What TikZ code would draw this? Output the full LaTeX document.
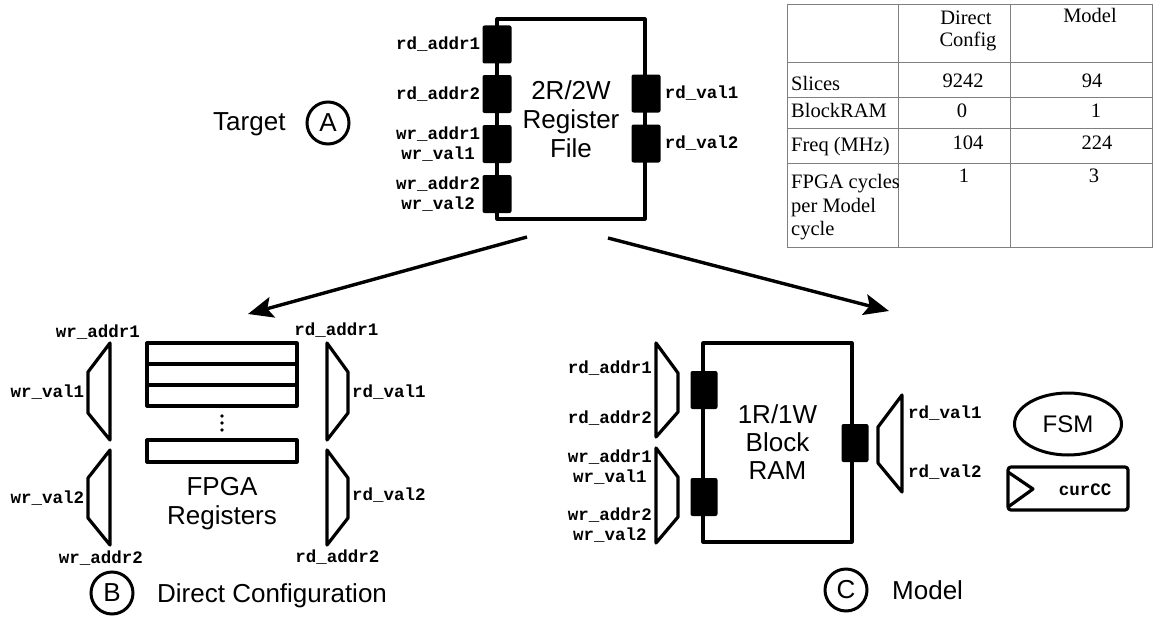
\documentclass[tikz,border=0pt]{standalone}
\usepackage{fontspec}
\setmainfont{Liberation Serif}
\setsansfont{Liberation Sans}
\setmonofont{Liberation Mono}
\usetikzlibrary{arrows.meta,positioning,shapes}

\begin{document}
\begin{tikzpicture}[x=1pt,y=-1pt,
  port/.style={fill=black,rounded corners=2pt,minimum width=29pt,minimum height=38pt,inner sep=0pt},
  sig/.style={font=\ttfamily\bfseries\fontsize{17.5}{20}\selectfont,inner sep=0pt,align=center},
  big/.style={font=\sffamily\fontsize{26}{29}\selectfont,align=center,inner sep=0pt},
  tbl/.style={font=\fontsize{20.5}{24}\selectfont,inner sep=0pt},
  hw/.style={draw,line width=3.2pt,line join=round},
  lettr/.style={draw,circle,line width=3pt,minimum size=42pt,inner sep=0pt,font=\sffamily\fontsize{26}{29}\selectfont},
  tline/.style={draw=gray,line width=1pt}]
\useasboundingbox (0,0) rectangle (1156,618);

% target register file
\node[big,anchor=base west] (tgt) at (213,130) {Target};
\node[lettr] (ca) at (328,123) {A};
\node[hw,big,minimum width=148pt,minimum height=200pt] (rf) at (571,119) {2R/2W\\Register\\File};
\node[port] (pl1) at (497,44.5) {};
\node[port] (pl2) at (497,94) {};
\node[port] (pl3) at (497,144) {};
\node[port] (pl4) at (497,194) {};
\node[port] (pr1) at (646,93.5) {};
\node[port] (pr2) at (646,143.5) {};
\node[sig,left=2pt of pl1] (ra1) {rd\_addr1};
\node[sig,left=2pt of pl2] (ra2) {rd\_addr2};
\node[sig,left=2pt of pl3] (wa1) {wr\_addr1\\wr\_val1};
\node[sig,left=2pt of pl4] (wa2) {wr\_addr2\\wr\_val2};
\node[sig,right=4pt of pr1] (rv1) {rd\_val1};
\node[sig,right=4pt of pr2] (rv2) {rd\_val2};

% table
\draw[tline] (787,5) rectangle (1152,247);
\draw[tline] (898,5) -- (898,247);
\draw[tline] (1010,5) -- (1010,247);
\draw[tline] (787,63) -- (1152,63);
\draw[tline] (787,97) -- (1152,97);
\draw[tline] (787,128) -- (1152,128);
\draw[tline] (787,163) -- (1152,163);
\node[tbl,anchor=base] (hd1) at (966,25) {Direct};
\node[tbl,anchor=base] (hd2) at (968,47) {Config};
\node[tbl,anchor=base] (hm) at (1090,23) {Model};
\node[tbl,anchor=base west] (rs) at (791,90) {Slices};
\node[tbl,anchor=base west] (rb) at (791,117) {BlockRAM};
\node[tbl,anchor=base west] (rq) at (791,151) {Freq (MHz)};
\node[tbl,anchor=base west] (rc1) at (791,188) {FPGA cycles};
\node[tbl,anchor=base west] (rc2) at (791,212) {per Model};
\node[tbl,anchor=base west] (rc3) at (791,235) {cycle};
\node[tbl,anchor=base] (vs1) at (963,88) {9242};
\node[tbl,anchor=base] (vs2) at (1092,88) {94};
\node[tbl,anchor=base] (vb1) at (962,117) {0};
\node[tbl,anchor=base] (vb2) at (1096,117) {1};
\node[tbl,anchor=base] (vq1) at (968,149) {104};
\node[tbl,anchor=base] (vq2) at (1097,149) {224};
\node[tbl,anchor=base] (vc1) at (964,182) {1};
\node[tbl,anchor=base] (vc2) at (1094,182) {3};

% arrows
\coordinate (al) at (527,237);
\coordinate (bl) at (248,314);
\coordinate (ar) at (608,238);
\coordinate (br) at (889,311);
\draw[-{Stealth[length=25pt,width=21pt,inset=5pt]},line width=3.4pt] (al) -- (bl);
\draw[-{Stealth[length=25pt,width=21pt,inset=5pt]},line width=3.4pt] (ar) -- (br);

% direct configuration
\node[hw,minimum width=150pt,minimum height=21pt,inner sep=0pt] (r1) at (222,353.5) {};
\node[hw,minimum width=150pt,minimum height=21pt,inner sep=0pt] (r2) at (222,374.5) {};
\node[hw,minimum width=150pt,minimum height=21pt,inner sep=0pt] (r3) at (222,395.5) {};
\node[hw,minimum width=150pt,minimum height=22pt,inner sep=0pt] (r4) at (222,451) {};
\fill (222,416) circle (1.8);
\fill (222,423) circle (1.8);
\fill (222,430) circle (1.8);
\node[big] (fr) at (222,504) {FPGA\\Registers};
\draw[hw] (110,343) -- (88,372) -- (88,413) -- (110,440) -- cycle;
\draw[hw] (110,450) -- (88,478) -- (88,518) -- (110,545) -- cycle;
\draw[hw] (327,343) -- (348,372) -- (348,413) -- (327,440) -- cycle;
\draw[hw] (327,450) -- (348,478) -- (348,518) -- (327,545) -- cycle;
\node[sig] (bwa1) at (98,332) {wr\_addr1};
\node[sig] (bwv1) at (47.5,392) {wr\_val1};
\node[sig] (bwv2) at (47.5,498) {wr\_val2};
\node[sig] (bwa2) at (101,558) {wr\_addr2};
\node[sig] (bra1) at (336.5,330) {rd\_addr1};
\node[sig] (brv1) at (389,392) {rd\_val1};
\node[sig] (brv2) at (389,495) {rd\_val2};
\node[sig] (bra2) at (337.5,557) {rd\_addr2};
\node[lettr] (cb) at (112,593) {B};
\node[big,anchor=base west] (dc) at (157,602) {Direct Configuration};

% model
\node[hw,big,font=\sffamily\fontsize{26}{28}\selectfont,minimum width=149pt,minimum height=199pt] (bram) at (777.5,442.5) {1R/1W\\Block\\RAM};
\node[port,minimum width=27pt] (pc1) at (704,390) {};
\node[port,minimum width=27pt] (pc2) at (704,497) {};
\node[port,minimum width=27pt] (pc3) at (855,443) {};
\draw[hw] (656,343) -- (678,373) -- (678,412) -- (656,437) -- cycle;
\draw[hw] (656,448) -- (678,477) -- (678,517) -- (656,543) -- cycle;
\draw[hw] (902,395) -- (878,427) -- (878,463) -- (902,492) -- cycle;
\node[sig,anchor=east] (cra1) at (652,368) {rd\_addr1};
\node[sig,anchor=east] (cra2) at (652,418) {rd\_addr2};
\node[sig,anchor=east] (cwa1) at (652,467) {wr\_addr1\\wr\_val1};
\node[sig,anchor=east] (cwa2) at (652,525) {wr\_addr2\\wr\_val2};
\node[sig,anchor=west] (crv1) at (908,413) {rd\_val1};
\node[sig,anchor=west] (crv2) at (908,472) {rd\_val2};
\node[draw,ellipse,line width=3pt,minimum width=107pt,minimum height=62pt,font=\sffamily\fontsize{24}{26}\selectfont] (fsm) at (1068,424) {FSM};
\node[hw,rounded corners=3pt,minimum width=120pt,minimum height=43pt] (cc) at (1068,488.5) {};
\draw[hw] (1008,472) -- (1033,489) -- (1008,507);
\node[sig] (ccl) at (1085,490) {curCC};
\node[lettr] (cm) at (846,590) {C};
\node[big,anchor=base west] (mdl) at (892,599) {Model};
\end{tikzpicture}
\end{document}
